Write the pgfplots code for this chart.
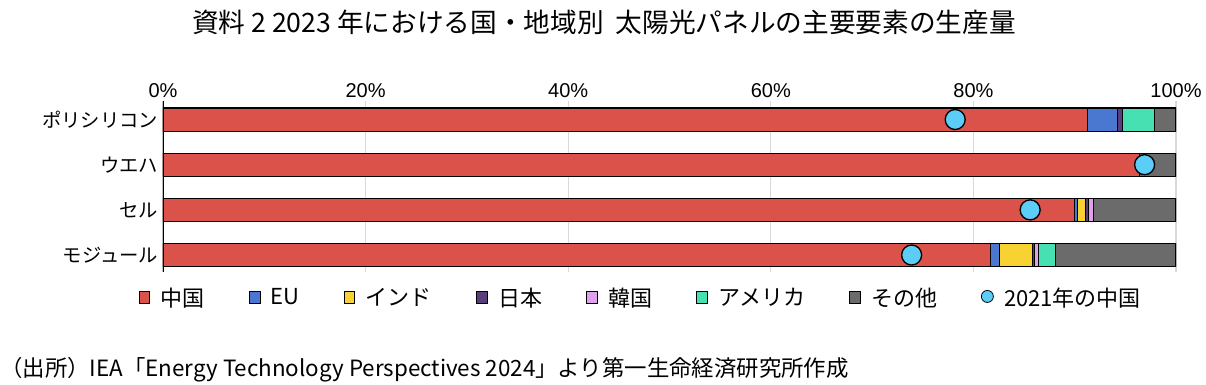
\documentclass[border=0pt]{standalone}
\usepackage{pgfplots}
\pgfplotsset{compat=1.18}
\usepackage{fontspec}
\setmainfont{Noto Sans CJK JP}
\newfontfamily\lib{Liberation Sans}
\definecolor{cCN}{HTML}{DB524B}
\definecolor{cEU}{HTML}{4A78D0}
\definecolor{cIN}{HTML}{F8D132}
\definecolor{cJP}{HTML}{5A3E7C}
\definecolor{cKR}{HTML}{E0A0EE}
\definecolor{cUS}{HTML}{47E0B3}
\definecolor{cOT}{HTML}{6A6B6A}
\definecolor{c21}{HTML}{5CCDF7}
\pgfplotsset{
  sq/.style={fill=#1, draw=black, line width=0.8pt,
    legend image code/.code={\draw[fill=#1,draw=black,line width=0.6pt] (0pt,-4.5pt) rectangle (8pt,4.5pt);}},
  common/.style={
    scale only axis, width=759.75pt, height=128.25pt,
    at={(122.25pt,-203.8pt)}, anchor=south west,
    xmin=0, xmax=100, ymin=-0.416, ymax=3.37, y dir=reverse,
  }
}
\begin{document}
\begin{tikzpicture}
\useasboundingbox (0pt,0pt) rectangle (904.5pt,-288.75pt);
\begin{axis}[common,
  xbar stacked, bar width=0.51,
  axis line style={draw=none},
  major tick length=0pt,
  ytick={0,1,2,3},
  yticklabels={ポリシリコン,ウエハ,セル,モジュール},
  xtick={0,20,40,60,80,100},
  xticklabels={0\%,20\%,40\%,60\%,80\%,100\%},
  xticklabel pos=upper,
  xmajorgrids, grid style={black!15, line width=1pt},
  xticklabel style={font=\lib\fontsize{15}{15}\selectfont, yshift=-1pt},
  yticklabel style={font=\fontsize{14.5}{14.5}\selectfont},
  legend columns=-1,
  legend style={at={(0.472,-0.06)}, anchor=north, draw=none,
    font=\fontsize{16.5}{16.5}\selectfont,
    /tikz/every odd column/.append style={column sep=6pt},
    /tikz/every even column/.append style={column sep=31pt}},
]
\addplot[sq=cCN] coordinates {(91.3,0) (96.4,1) (90.0,2) (81.7,3)};
\addplot[sq=cEU] coordinates {(2.9,0) (0,1) (0.3,2) (0.9,3)};
\addplot[sq=cIN] coordinates {(0,0) (0,1) (0.8,2) (3.2,3)};
\addplot[sq=cJP] coordinates {(0.5,0) (0,1) (0.3,2) (0.2,3)};
\addplot[sq=cKR] coordinates {(0,0) (0,1) (0.45,2) (0.4,3)};
\addplot[sq=cUS] coordinates {(3.2,0) (0,1) (0,2) (1.7,3)};
\addplot[sq=cOT] coordinates {(2.1,0) (3.6,1) (8.15,2) (11.9,3)};
\addlegendimage{only marks, mark=*, mark size=4.5pt, mark options={fill=c21, draw=black, line width=0.6pt}}
\legend{中国,EU,インド,日本,韓国,アメリカ,その他,2021年の中国}
\draw[black, line width=1.2pt] (axis cs:0,-0.416) -- (axis cs:0,3.37);
\end{axis}
\begin{axis}[common, hide axis]
\addplot[only marks, mark=*, mark size=7.5pt, mark options={fill=c21, draw=black, line width=1pt}]
  coordinates {(78.2,0) (96.9,1) (85.6,2) (73.9,3)};
\end{axis}
\node[font=\fontsize{20}{20}\selectfont] at (453pt,-16.5pt) {資料 2 2023 年における国・地域別\ \ 太陽光パネルの主要要素の生産量};
\node[anchor=west, inner sep=0pt, font=\fontsize{16.8}{16.8}\selectfont] at (0pt,-277.5pt) {（出所）IEA「Energy Technology Perspectives 2024」より第一生命経済研究所作成};
\end{tikzpicture}
\end{document}
